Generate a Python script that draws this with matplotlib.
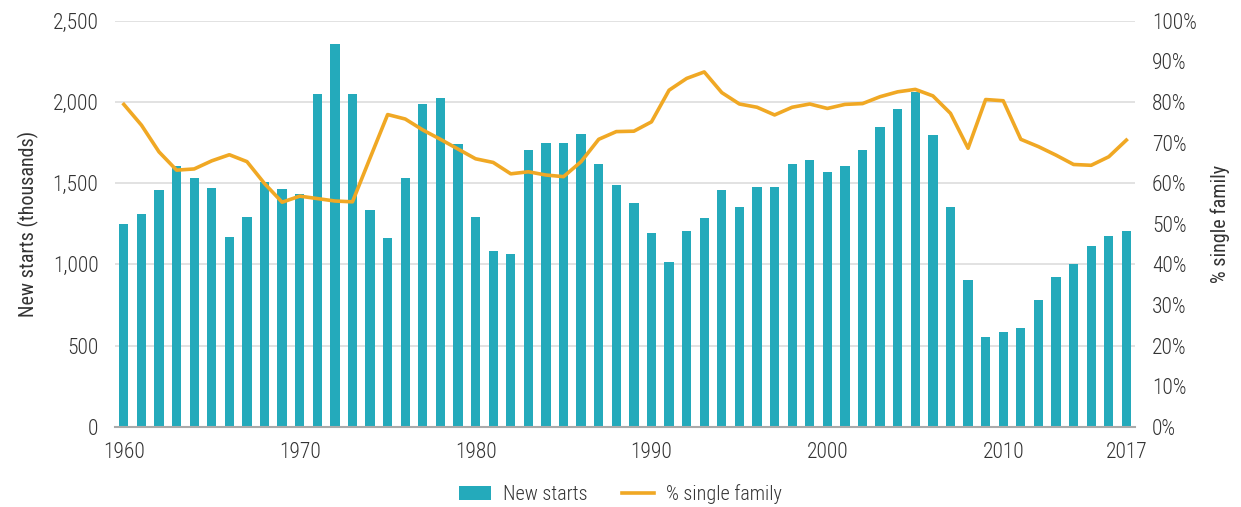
import matplotlib
matplotlib.use("Agg")
import matplotlib.pyplot as plt
from matplotlib.ticker import FuncFormatter

plt.rcParams['font.family'] = ['Roboto Condensed', 'Liberation Sans', 'DejaVu Sans']
plt.rcParams['font.weight'] = 'light'

years = list(range(1960, 2018))
# new housing starts, thousands
starts = [1250, 1310, 1459, 1605, 1529, 1470, 1166, 1291, 1505, 1464,
          1435, 2051, 2357, 2046, 1334, 1162, 1533, 1987, 2022, 1743,
          1291, 1082, 1063, 1704, 1749, 1745, 1802, 1618, 1488, 1375,
          1191, 1012, 1203, 1285, 1455, 1355, 1474, 1474, 1615, 1640,
          1568, 1605, 1704, 1847, 1958, 2063, 1798, 1355, 903, 552,
          585, 608, 778, 924, 1002, 1113, 1172, 1203]
# share of single family, percent
single = [79.4, 74.3, 67.7, 63.2, 63.5, 65.5, 67.0, 65.3, 59.9, 55.3,
          56.8, 56.2, 55.6, 55.4, 66.2, 76.9, 75.8, 73.1, 70.8, 68.4,
          66.0, 65.1, 62.3, 62.8, 62.0, 61.6, 65.3, 70.8, 72.7, 72.8,
          75.1, 82.9, 85.8, 87.4, 82.3, 79.5, 78.7, 76.8, 78.7, 79.5,
          78.4, 79.4, 79.6, 81.3, 82.5, 83.1, 81.5, 77.2, 68.6, 80.6,
          80.3, 70.8, 69.0, 66.9, 64.6, 64.4, 66.5, 70.6]
xticks = [1960, 1970, 1980, 1990, 2000, 2010, 2017]

bar_col = '#24aabb'
line_col = '#f0a824'
txt_col = '#333333'

fig = plt.figure(figsize=(12.41, 5.07), dpi=100)
ax = fig.add_axes([0.0927, 0.1584, 0.822, 0.8006])
ax2 = ax.twinx()

ax.set_axisbelow(True)
b = ax.bar(years, starts, width=0.53, color=bar_col, label='New starts', zorder=2)
l, = ax2.plot(years, single, color=line_col, lw=2.6, label='% single family', zorder=3)

ax.set_xlim(1959.5, 2017.5)
ax.set_ylim(0, 2500)
ax2.set_ylim(0, 100)
ax.set_yticks(range(0, 2501, 500))
ax2.set_yticks(range(0, 101, 10))
ax.yaxis.set_major_formatter(FuncFormatter(lambda v, p: f'{int(v):,}'))
ax2.yaxis.set_major_formatter(FuncFormatter(lambda v, p: f'{int(v)}%'))
ax.set_xticks(xticks)

ax.grid(axis='y', color='#dddddd', lw=1.2, zorder=0)
for a in (ax, ax2):
    for s in ('top', 'left', 'right', 'bottom'):
        a.spines[s].set_visible(False)
    a.tick_params(length=0, labelsize=15.5, colors=txt_col)
ax.tick_params(axis='y', pad=12)
ax.tick_params(axis='x', pad=11)
ax2.tick_params(axis='y', pad=12)
ax.spines['bottom'].set_visible(True)
ax.spines['bottom'].set_color('#aaaaaa')
ax.spines['bottom'].set_linewidth(1.5)

ax.set_ylabel('New starts (thousands)', fontsize=14.5, color=txt_col, labelpad=10)
ax2.set_ylabel('% single family', fontsize=14.5, color=txt_col, labelpad=10)

fig.legend([b, l], ['New starts', '% single family'], loc='center',
           bbox_to_anchor=(0.5, 0.026), ncol=2, frameon=False, fontsize=14.5,
           labelcolor=txt_col, handlelength=1.6, handletextpad=0.6,
           columnspacing=1.7)

fig.savefig('out.png', dpi=100)
